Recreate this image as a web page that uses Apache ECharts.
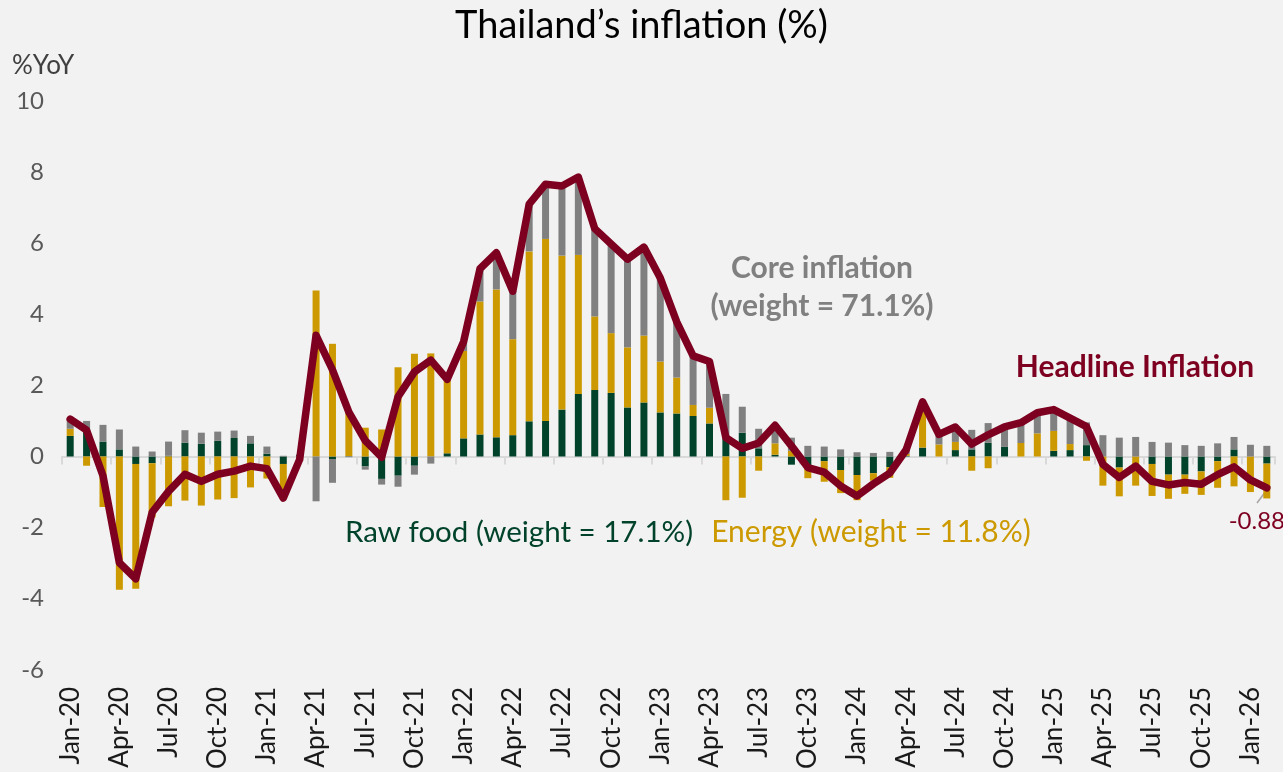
<!DOCTYPE html>
<html>
<head>
<meta charset="utf-8">
<script src="https://cdn.jsdelivr.net/npm/echarts@6/dist/echarts.min.js"></script>
<style>
  html, body { margin: 0; padding: 0; background: #f2f2f2; }
  #chart { width: 1283px; height: 772px; }
</style>
</head>
<body>
<div id="chart"></div>
<script>
// months Jan-20 .. Feb-26
var months = [
  'Jan-20','Feb-20','Mar-20','Apr-20','May-20','Jun-20','Jul-20','Aug-20','Sep-20','Oct-20','Nov-20','Dec-20',
  'Jan-21','Feb-21','Mar-21','Apr-21','May-21','Jun-21','Jul-21','Aug-21','Sep-21','Oct-21','Nov-21','Dec-21',
  'Jan-22','Feb-22','Mar-22','Apr-22','May-22','Jun-22','Jul-22','Aug-22','Sep-22','Oct-22','Nov-22','Dec-22',
  'Jan-23','Feb-23','Mar-23','Apr-23','May-23','Jun-23','Jul-23','Aug-23','Sep-23','Oct-23','Nov-23','Dec-23',
  'Jan-24','Feb-24','Mar-24','Apr-24','May-24','Jun-24','Jul-24','Aug-24','Sep-24','Oct-24','Nov-24','Dec-24',
  'Jan-25','Feb-25','Mar-25','Apr-25','May-25','Jun-25','Jul-25','Aug-25','Sep-25','Oct-25','Nov-25','Dec-25',
  'Jan-26','Feb-26'
];

// contributions (ppt)
var rawFood = [
  0.58, 0.70, 0.42, 0.20, -0.21, -0.19, 0.02, 0.39, 0.36, 0.44, 0.52, 0.37,
  0.08, -0.21, 0.05, 0.00, -0.07, 0.01, -0.28, -0.63, -0.54, -0.26, 0.00, 0.09,
  0.51, 0.62, 0.54, 0.60, 0.99, 1.00, 1.32, 1.76, 1.87, 1.79, 1.38, 1.52,
  1.24, 1.21, 1.14, 0.93, 0.50, 0.67, 0.23, 0.05, -0.23, -0.25, -0.13, -0.38,
  -0.52, -0.47, -0.30, 0.02, 0.25, 0.00, 0.18, 0.20, 0.39, 0.27, 0.00, 0.00,
  0.16, 0.18, 0.32, 0.00, -0.31, 0.00, -0.21, -0.51, -0.51, -0.42, -0.13, 0.20,
  0.00, -0.20
];
var energy = [
  0.20, -0.26, -1.42, -3.75, -3.51, -1.52, -1.40, -1.24, -1.38, -1.21, -1.17, -0.87,
  -0.62, -0.96, -0.08, 4.67, 3.17, 1.26, 0.81, 0.76, 2.51, 2.89, 2.90, 2.08,
  2.46, 3.74, 4.16, 2.70, 4.78, 5.12, 4.33, 3.91, 2.07, 1.68, 1.69, 1.88,
  1.43, 1.01, 0.31, 0.44, -1.23, -1.16, -0.40, 0.32, 0.16, -0.36, -0.58, -0.65,
  -0.71, -0.21, -0.30, 0.05, 1.00, 0.34, 0.23, -0.40, -0.33, 0.00, 0.38, 0.65,
  0.56, 0.17, -0.12, -0.82, -0.81, -0.82, -0.90, -0.68, -0.54, -0.66, -0.75, -0.84,
  -1.00, -0.98
];
var core = [
  0.27, 0.30, 0.47, 0.56, 0.28, 0.14, 0.40, 0.35, 0.31, 0.26, 0.21, 0.21,
  0.20, 0.02, -0.05, -1.26, -0.67, -0.02, -0.09, -0.16, -0.31, -0.25, -0.20, 0.00,
  0.26, 0.92, 1.03, 1.35, 1.33, 1.54, 1.96, 2.19, 2.47, 2.51, 2.48, 2.49,
  2.35, 1.57, 1.38, 1.30, 1.26, 0.73, 0.55, 0.51, 0.37, 0.30, 0.28, 0.20,
  0.12, 0.10, 0.13, 0.12, 0.29, 0.28, 0.42, 0.55, 0.55, 0.56, 0.57, 0.58,
  0.60, 0.73, 0.64, 0.60, 0.53, 0.55, 0.41, 0.39, 0.32, 0.30, 0.37, 0.35,
  0.33, 0.30
];
var headline = [
  1.05, 0.74, -0.54, -2.99, -3.44, -1.57, -0.98, -0.50, -0.70, -0.50, -0.41, -0.27,
  -0.34, -1.17, -0.08, 3.41, 2.44, 1.25, 0.45, -0.02, 1.68, 2.38, 2.71, 2.17,
  3.23, 5.28, 5.73, 4.65, 7.10, 7.66, 7.61, 7.86, 6.41, 5.98, 5.55, 5.89,
  5.02, 3.79, 2.83, 2.67, 0.53, 0.23, 0.38, 0.88, 0.30, -0.31, -0.44, -0.83,
  -1.11, -0.77, -0.47, 0.19, 1.54, 0.62, 0.83, 0.35, 0.61, 0.83, 0.95, 1.23,
  1.32, 1.08, 0.84, -0.22, -0.59, -0.27, -0.70, -0.80, -0.73, -0.78, -0.51, -0.29,
  -0.66, -0.88
];
var yTicks = { min: -6, max: 10, step: 2 };

var GREEN = '#00432a', GOLD = '#cc9a00', GREY = '#808080', RED = '#7e0021';
var FONT = 'Lato, "Liberation Sans", sans-serif';

var chart = echarts.init(document.getElementById('chart'));

var lastIdx = headline.length - 1;
var lineData = headline.map(function (v, i) {
  if (i !== lastIdx) return v;
  return {
    value: v,
    label: {
      show: true, position: 'bottom', offset: [-10, 16],
      formatter: function (p) { return Number(p.value).toFixed(2); },
      color: RED, fontSize: 24, fontFamily: FONT
    }
  };
});

var option = {
  backgroundColor: '#f2f2f2',
  animation: false,
  title: {
    text: 'Thailand\u2019s inflation (%)',
    left: 'center', top: 2,
    textStyle: { fontFamily: FONT, fontSize: 38, fontWeight: 'normal', color: '#000' }
  },
  grid: { left: 62, right: 8, top: 101, bottom: 97, containLabel: false },
  xAxis: [
    {
      type: 'category', data: months,
      axisLine: { onZero: true, lineStyle: { color: '#d9d9d9', width: 2 } },
      axisTick: { show: true, interval: 2, length: 8, lineStyle: { color: '#d9d9d9', width: 2 } },
      axisLabel: { show: false }
    },
    {
      type: 'category', data: months, position: 'bottom',
      axisLine: { show: false, onZero: false },
      axisTick: { show: false },
      axisLabel: {
        interval: 2, rotate: 90, margin: 17,
        fontFamily: FONT, fontSize: 26, color: '#1a1a1a'
      }
    }
  ],
  yAxis: {
    type: 'value', min: yTicks.min, max: yTicks.max, interval: yTicks.step,
    axisLine: { show: false }, axisTick: { show: false },
    splitLine: { show: false },
    axisLabel: { margin: 18, fontFamily: FONT, fontSize: 24, color: '#595959' }
  },
  series: [
    { name: 'Raw food', type: 'bar', stack: 'c', data: rawFood, barWidth: 7,
      itemStyle: { color: GREEN } },
    { name: 'Energy', type: 'bar', stack: 'c', data: energy, barWidth: 7,
      itemStyle: { color: GOLD } },
    { name: 'Core', type: 'bar', stack: 'c', data: core, barWidth: 7,
      itemStyle: { color: GREY } },
    { name: 'Headline', type: 'line', data: lineData,
      symbol: 'circle', symbolSize: 0, showSymbol: true,
      lineStyle: { color: RED, width: 7.5, join: 'round', cap: 'round' }, z: 5 }
  ],
  graphic: [
    { type: 'text', left: 12, top: 53,
      style: { text: '%YoY', font: '26px ' + FONT, fill: '#404040' } },
    { type: 'text', x: 822, y: 268,
      style: { text: 'Core inflation', font: 'bold 30px ' + FONT, fill: GREY,
        align: 'center', verticalAlign: 'middle' } },
    { type: 'text', x: 822, y: 306,
      style: { text: '(weight = 71.1%)', font: 'bold 30px ' + FONT, fill: GREY,
        align: 'center', verticalAlign: 'middle' } },
    { type: 'text', x: 1135, y: 367,
      style: { text: 'Headline Inflation', font: 'bold 30px ' + FONT, fill: RED,
        align: 'center', verticalAlign: 'middle' } },
    { type: 'text', x: 519, y: 532,
      style: { text: 'Raw food (weight = 17.1%)', font: '29.5px ' + FONT, fill: GREEN,
        align: 'center', verticalAlign: 'middle' } },
    { type: 'text', x: 871, y: 532,
      style: { text: 'Energy (weight = 11.8%)', font: '30px ' + FONT, fill: GOLD,
        align: 'center', verticalAlign: 'middle' } },
    { type: 'line', shape: { x1: 1257, y1: 503, x2: 1266, y2: 491 },
      style: { stroke: '#a6a6a6', lineWidth: 1.5 } }
  ]
};

chart.setOption(option);
</script>
</body>
</html>
